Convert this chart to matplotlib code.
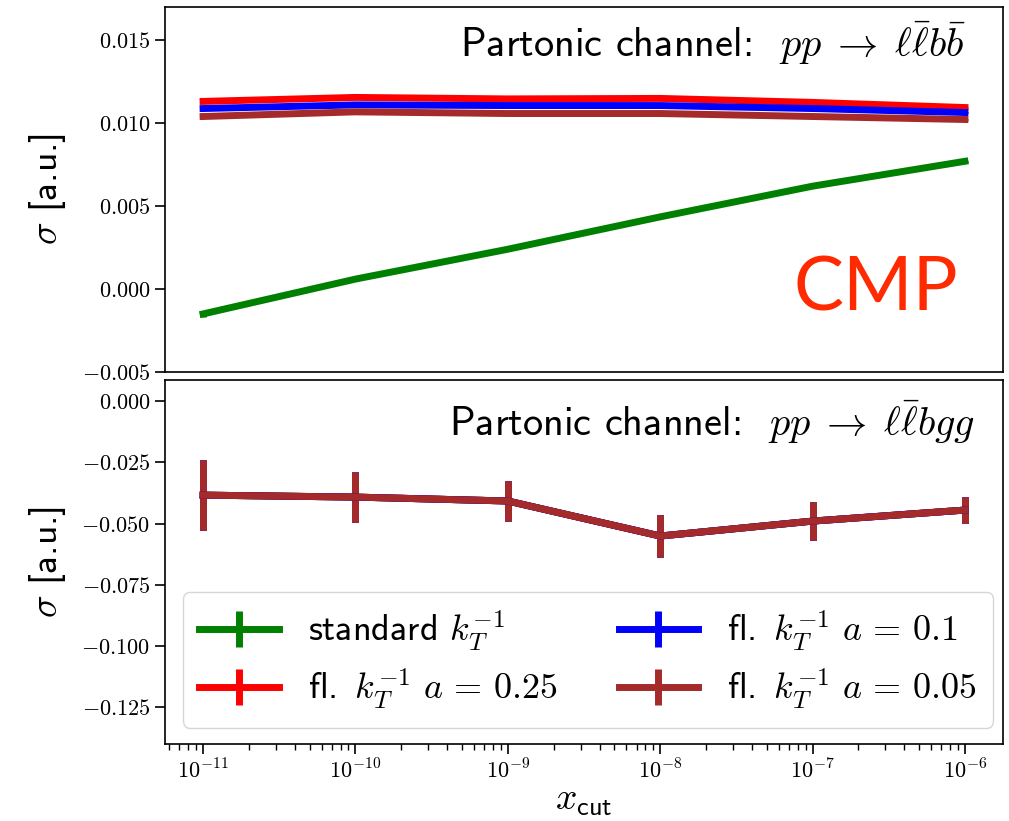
import numpy as np
import matplotlib
matplotlib.use("Agg")
import matplotlib.pyplot as plt
from matplotlib.ticker import FuncFormatter, FixedLocator, NullFormatter, LogLocator

plt.rcParams['mathtext.fontset'] = 'cm'
plt.rcParams['axes.linewidth'] = 1.2
plt.rcParams['font.family'] = ['cmss10', 'DejaVu Sans']
plt.rcParams['axes.formatter.use_mathtext'] = True

# ---- data ----
x_cut = [1e-11, 1e-10, 1e-9, 1e-8, 1e-7, 1e-6]
x_exponents = [-11, -10, -9, -8, -7, -6]

# top panel: pp -> l lbar b bbar
top_standard = [-0.0015, 0.0006, 0.0024, 0.00435, 0.0062, 0.0077]
top_standard_err = [0.0002, 0.0001, 0.00003, 0.00003, 0.00003, 0.00003]
top_a025 = [0.01131, 0.01155, 0.01146, 0.01149, 0.01125, 0.01094]
top_a01 = [0.01088, 0.01110, 0.01106, 0.01106, 0.01088, 0.01064]
top_a005 = [0.01040, 0.01068, 0.01058, 0.01058, 0.01040, 0.01022]
top_small_err = [0.00003, 0.00003, 0.00003, 0.00003, 0.00003, 0.00003]

# bottom panel: pp -> l lbar b g g
bot_standard = [-0.0384, -0.0392, -0.0408, -0.0551, -0.0490, -0.0445]
bot_a025 = [-0.0384, -0.0392, -0.0408, -0.0551, -0.0490, -0.0445]
bot_a01 = [-0.0384, -0.0392, -0.0408, -0.0551, -0.0490, -0.0445]
bot_a005 = [-0.0384, -0.0392, -0.0408, -0.0551, -0.0490, -0.0445]
bot_err = [0.0143, 0.0102, 0.0082, 0.0084, 0.0076, 0.0053]

top_yticks = [-0.005, 0.0, 0.005, 0.010, 0.015]
bot_yticks = [-0.125, -0.100, -0.075, -0.050, -0.025, 0.0]

labels = [r'standard $k_T^{-1}$',
          r'fl. $\,k_T^{-1}\ a \,=\, 0.25$',
          r'fl. $\,k_T^{-1}\ a \,=\, 0.1$',
          r'fl. $\,k_T^{-1}\ a \,=\, 0.05$']
colors = ['green', 'red', 'blue', 'brown']

W, H = 1009, 821
fig = plt.figure(figsize=(W / 100, H / 100), dpi=100)
ax1 = fig.add_axes([165 / W, 1 - 372 / H, (1003 - 165) / W, (372 - 7) / H])
ax2 = fig.add_axes([165 / W, 1 - 744 / H, (1003 - 165) / W, (744 - 380) / H], sharex=ax1)

lw = 5
top_series = [(top_standard, top_standard_err), (top_a025, top_small_err),
              (top_a01, top_small_err), (top_a005, top_small_err)]
for (y, e), c, lab in zip(top_series, colors, labels):
    ax1.errorbar(x_cut, y, yerr=e, color=c, lw=lw, elinewidth=lw, capsize=0, label=lab)

bot_series = [bot_standard, bot_a025, bot_a01, bot_a005]
handles = []
for y, c, lab in zip(bot_series, colors, labels):
    h = ax2.errorbar(x_cut, y, yerr=bot_err, color=c, lw=lw, elinewidth=lw, capsize=0, label=lab)
    handles.append(h)

ax1.set_xscale('log')
ax1.set_ylim(-0.005, 0.017)
ax2.set_ylim(-0.14, 0.0086)
ax1.yaxis.set_major_locator(FixedLocator(top_yticks))
ax2.yaxis.set_major_locator(FixedLocator(bot_yticks))

fmt = FuncFormatter(lambda v, p: (r'$%.3f$' % v) if abs(v) > 1e-12 else r'$0.000$')
ax1.yaxis.set_major_formatter(fmt)
ax2.yaxis.set_major_formatter(fmt)

ax2.xaxis.set_major_locator(FixedLocator([10.0 ** e for e in x_exponents]))
ax2.xaxis.set_major_formatter(FuncFormatter(lambda v, p: r'$10^{%d}$' % int(round(np.log10(v)))))
ax2.xaxis.set_minor_locator(LogLocator(base=10, subs=np.arange(2, 10), numticks=20))
ax2.xaxis.set_minor_formatter(NullFormatter())

for ax in (ax1, ax2):
    ax.tick_params(axis='y', labelsize=16, length=7, width=1.2)
ax1.tick_params(axis='x', which='both', bottom=False, labelbottom=False)
ax2.tick_params(axis='x', which='major', labelsize=16, length=7, width=1.2)
ax2.tick_params(axis='x', which='minor', length=4, width=1.0)

ax1.set_ylabel(r'$\sigma$ [a.u.]', fontsize=27, labelpad=10)
ax2.set_ylabel(r'$\sigma$ [a.u.]', fontsize=27, labelpad=10)
ax2.set_xlabel(r'$x_{\mathsf{cut}}$', fontsize=27, labelpad=2)

ax1.text(0.955, 0.90, r'Partonic channel:  $pp\;\to\;\ell\bar{\ell}b\bar{b}$',
         transform=ax1.transAxes, ha='right', va='center', fontsize=29)
ax2.text(0.967, 0.885, r'Partonic channel:  $pp\;\to\;\ell\bar{\ell}bgg$',
         transform=ax2.transAxes, ha='right', va='center', fontsize=29)

fig.text(876 / W, 1 - 289 / H, 'CMP', color='#ff2a00', fontsize=54,
         family='Lato', ha='center', va='center')

ax2.legend(handles=handles, labels=labels, ncol=2, fontsize=26,
           loc='lower left', bbox_to_anchor=(0.0215, 0.045, 0.9665, 0.37),
           mode='expand', borderaxespad=0, handlelength=2.2, labelspacing=0.4,
           borderpad=0.45)

fig.savefig('out.png', dpi=100)
